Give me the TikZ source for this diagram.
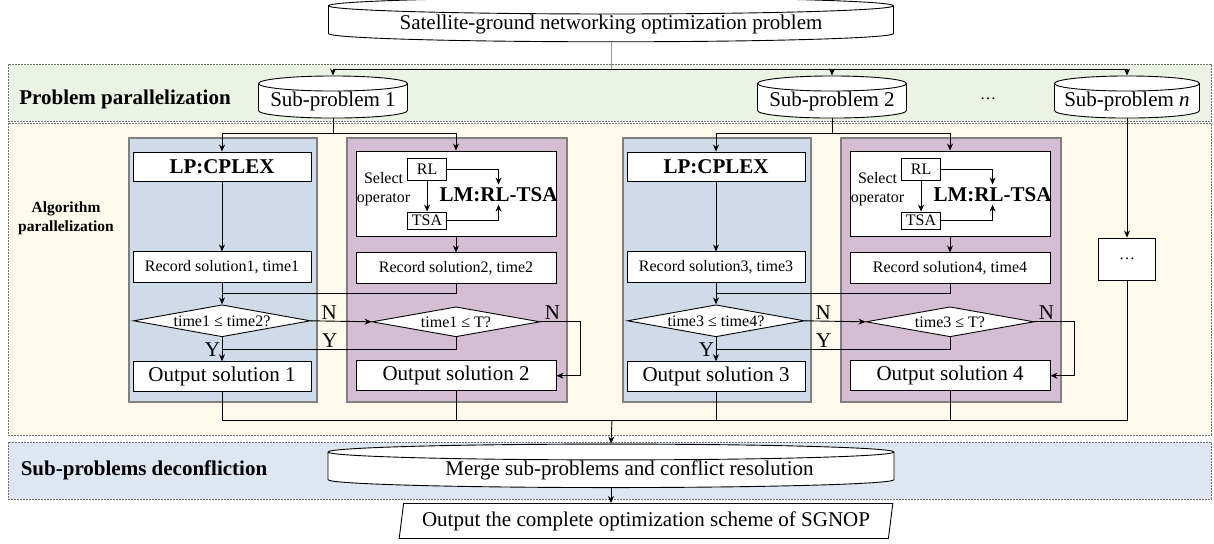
\documentclass[tikz,border=0pt]{standalone}
\usepackage{fontspec}
\setmainfont{Liberation Serif}
\usepackage{tikz}
\usetikzlibrary{shapes.geometric, arrows.meta, positioning, calc}

\definecolor{bandgreen}{RGB}{235,243,228}
\definecolor{bandyellow}{RGB}{254,249,234}
\definecolor{bandblue}{RGB}{221,230,241}
\definecolor{panelblue}{RGB}{207,219,233}
\definecolor{panelpurple}{RGB}{213,189,212}

\newcommand{\bigsz}{\fontsize{21}{24}\selectfont}
\newcommand{\smallsz}{\fontsize{16}{19}\selectfont}
\newcommand{\zerobox}[1]{\makebox[0pt]{\raisebox{-0.33em}[0pt][0pt]{#1}}}

\tikzset{
  band/.style={rectangle, draw=black!55, dash pattern=on 2pt off 1pt, line width=0.8pt, inner sep=0pt},
  panel/.style={rectangle, draw=black!50, line width=1.2pt, inner sep=0pt, minimum height=264pt},
  disk/.style={cylinder, shape border rotate=90, draw=black, fill=white, inner sep=0pt, font=\bigsz},
  box/.style={rectangle, draw=black, fill=white, inner sep=0pt, minimum height=30pt, font=\bigsz},
  recbox/.style={rectangle, draw=black, fill=white, inner sep=0pt, minimum height=31pt, font=\smallsz},
  opbox/.style={rectangle, draw=black, fill=white, inner sep=0pt, font=\smallsz},
  test/.style={diamond, draw=black, fill=white, inner sep=0pt, minimum width=177pt, minimum height=32pt, font=\smallsz},
  stage/.style={font=\bfseries\bigsz, inner sep=0pt},
  lbl/.style={font=\bigsz, inner sep=1.5pt},
  arrow/.style={-{Stealth[length=7pt,width=6pt]}},
}

\begin{document}
\begin{tikzpicture}[x=1pt, y=-1pt, line width=0.9pt]
  \useasboundingbox (0,0) rectangle (1214,543);

  % stage bands
  \node[band, fill=bandgreen, minimum width=1203pt, minimum height=57pt] (bandP) at (609.5,92.5) {};
  \node[band, fill=bandyellow, minimum width=1203pt, minimum height=312pt] (bandA) at (609.5,279) {};
  \node[band, fill=bandblue, minimum width=1203pt, minimum height=57pt] (bandD) at (609.5,470.5) {};
  \node[stage] (labP) at (125,99) {Problem parallelization};
  \node[stage, font=\bfseries\fontsize{15.5}{19}\selectfont, align=center] (labA) at (66,218) {Algorithm\\parallelization};
  \node[stage] (labD) at (144,470) {Sub-problems deconfliction};

  % problem and sub-problems
  \node[disk, minimum width=565pt, minimum height=37pt, aspect=0.039] (top) at (611,24) {Satellite-ground networking optimization problem};
  \node[disk, minimum width=149pt, minimum height=34pt, aspect=0.12] (sub1) at (333,101) {Sub-problem 1};
  \node[disk, minimum width=149pt, minimum height=34pt, aspect=0.12] (sub2) at (832,101) {Sub-problem 2};
  \node[disk, minimum width=145pt, minimum height=34pt, aspect=0.12] (subn) at (1127,101) {Sub-problem \textit{n}};
  \node[font=\smallsz] (gap) at (988,99) {\dots};

  % algorithm panels
  \node[panel, fill=panelblue, minimum width=188pt] (pan1) at (223,270) {};
  \node[panel, fill=panelpurple, minimum width=220pt] (pan2) at (457,270) {};
  \node[panel, fill=panelblue, minimum width=188pt] (pan3) at (717,270) {};
  \node[panel, fill=panelpurple, minimum width=220pt] (pan4) at (951,270) {};

  % panel 1
  \node[box, minimum width=178pt, minimum height=29pt, font=\bfseries\bigsz] (lp1) at (222,166.5) {LP:CPLEX};
  \node[recbox, minimum width=178pt, below=70pt of lp1] (rec1) {Record solution1, time1};
  \node[test, below=21pt of rec1] (dia1) {\zerobox{time1 ≤ time2?}};
  \node[box, minimum width=178pt, below=24pt of dia1] (out1) {Output solution 1};

  % panel 2
  \node[box, minimum width=200pt, minimum height=85pt] (lm2) at (456,193.5) {};
  \node[opbox, minimum width=39pt, minimum height=22pt] (rl2) at ($(lm2.north west)+(71.5,19)$) {RL};
  \node[opbox, minimum width=39pt, minimum height=17pt] (tsa2) at ($(lm2.north west)+(71.5,70)$) {TSA};
  \node[font=\smallsz, align=center, inner sep=0pt] (sel2) at ($(lm2.north west)+(28,39)$) {Select\\operator};
  \node[font=\bfseries\bigsz, inner sep=2.5pt] (alg2) at ($(lm2.north west)+(143,44)$) {LM:RL-TSA};
  \node[recbox, minimum width=200pt, below=16pt of lm2] (rec2) {Record solution2, time2};
  \node[test, minimum width=168pt, minimum height=30pt, below=22pt of rec2] (dia2) {\zerobox{time1 ≤ T?}};
  \node[box, minimum width=200pt, below=23pt of dia2] (out2) {Output solution 2};

  % panel 3
  \node[box, minimum width=178pt, minimum height=29pt, font=\bfseries\bigsz] (lp3) at (716,166.5) {LP:CPLEX};
  \node[recbox, minimum width=178pt, below=70pt of lp3] (rec3) {Record solution3, time3};
  \node[test, below=21pt of rec3] (dia3) {\zerobox{time3 ≤ time4?}};
  \node[box, minimum width=178pt, below=24pt of dia3] (out3) {Output solution 3};

  % panel 4
  \node[box, minimum width=200pt, minimum height=85pt] (lm4) at (950,193.5) {};
  \node[opbox, minimum width=39pt, minimum height=22pt] (rl4) at ($(lm4.north west)+(71.5,19)$) {RL};
  \node[opbox, minimum width=39pt, minimum height=17pt] (tsa4) at ($(lm4.north west)+(71.5,70)$) {TSA};
  \node[font=\smallsz, align=center, inner sep=0pt] (sel4) at ($(lm4.north west)+(28,39)$) {Select\\operator};
  \node[font=\bfseries\bigsz, inner sep=2.5pt] (alg4) at ($(lm4.north west)+(143,44)$) {LM:RL-TSA};
  \node[recbox, minimum width=200pt, below=16pt of lm4] (rec4) {Record solution4, time4};
  \node[test, minimum width=168pt, minimum height=30pt, below=22pt of rec4] (dia4) {\zerobox{time3 ≤ T?}};
  \node[box, minimum width=200pt, below=23pt of dia4] (out4) {Output solution 4};

  \node[box, minimum width=57pt, minimum height=42pt, font=\smallsz] (more) at (1127,259) {\dots};

  % deconfliction
  \node[disk, minimum width=566pt, minimum height=37pt, aspect=0.039] (merge) at (611,470) {\hspace*{37pt}Merge sub-problems and conflict resolution};
  \node[trapezium, trapezium left angle=78, trapezium right angle=102, trapezium stretches=true, draw, fill=white, font=\bigsz,
        inner sep=0pt, minimum width=496pt, minimum height=35pt] (final) at (646,521) {Output the complete optimization scheme of SGNOP};

  \coordinate (topsplit) at (611,69);
  \coordinate (split1) at (333,133);
  \coordinate (split2) at (832,133);
  \coordinate (bus) at (612,420);

  \draw[draw=black!40] (top.south) -- (topsplit);
  \draw[arrow] (topsplit) -| (sub1.north);
  \draw[arrow] (topsplit) -| (sub2.north);
  \draw[arrow] (topsplit) -| (subn.north);

  \draw (sub1.south) -- (split1);
  \draw[arrow] (split1) -| (lp1.north);
  \draw[arrow] (split1) -| (lm2.north);
  \draw (sub2.south) -- (split2);
  \draw[arrow] (split2) -| (lp3.north);
  \draw[arrow] (split2) -| (lm4.north);
  \draw[arrow] (subn.south) -- (more.north);

  \draw[arrow] (lp1) -- (rec1);
  \draw[arrow] (rec1) -- (dia1);
  \draw[arrow] (rl2) -- (tsa2);
  \draw[arrow] (rl2.east) -| (alg2.north);
  \draw[arrow] (tsa2.east) -| (alg2.south);
  \draw[arrow] (lm2) -- (rec2);
  \draw (rec2.south) |- ($(rec1.south)!0.5!(dia1.north)$);
  \draw[arrow] (dia1.east) -- node[lbl, above, pos=0.3] {N} (dia2.west);
  \draw[arrow] (dia1.south) -- node[lbl, left] {Y} (out1.north);
  \draw (dia2.south) |- node[lbl, above, pos=0.77] {Y} ($(dia1.south)!0.5!(out1.north)$);
  \draw[arrow] (dia2.east) -- node[lbl, above, pos=0.3] {N} ++(40,0) |- (out2.east);

  \draw[arrow] (lp3) -- (rec3);
  \draw[arrow] (rec3) -- (dia3);
  \draw[arrow] (rl4) -- (tsa4);
  \draw[arrow] (rl4.east) -| (alg4.north);
  \draw[arrow] (tsa4.east) -| (alg4.south);
  \draw[arrow] (lm4) -- (rec4);
  \draw (rec4.south) |- ($(rec3.south)!0.5!(dia3.north)$);
  \draw[arrow] (dia3.east) -- node[lbl, above, pos=0.3] {N} (dia4.west);
  \draw[arrow] (dia3.south) -- node[lbl, left] {Y} (out3.north);
  \draw (dia4.south) |- node[lbl, above, pos=0.77] {Y} ($(dia3.south)!0.5!(out3.north)$);
  \draw[arrow] (dia4.east) -- node[lbl, above, pos=0.3] {N} ++(40,0) |- (out4.east);

  \draw (out1.south) |- (more.south |- bus) -- (more.south);
  \draw (out2.south) -- (out2.south |- bus);
  \draw (out3.south) -- (out3.south |- bus);
  \draw (out4.south) -- (out4.south |- bus);
  \draw[arrow] (bus) -- (merge.north);
  \draw[arrow] (merge.south) -- (merge.south |- final.north);
\end{tikzpicture}
\end{document}
